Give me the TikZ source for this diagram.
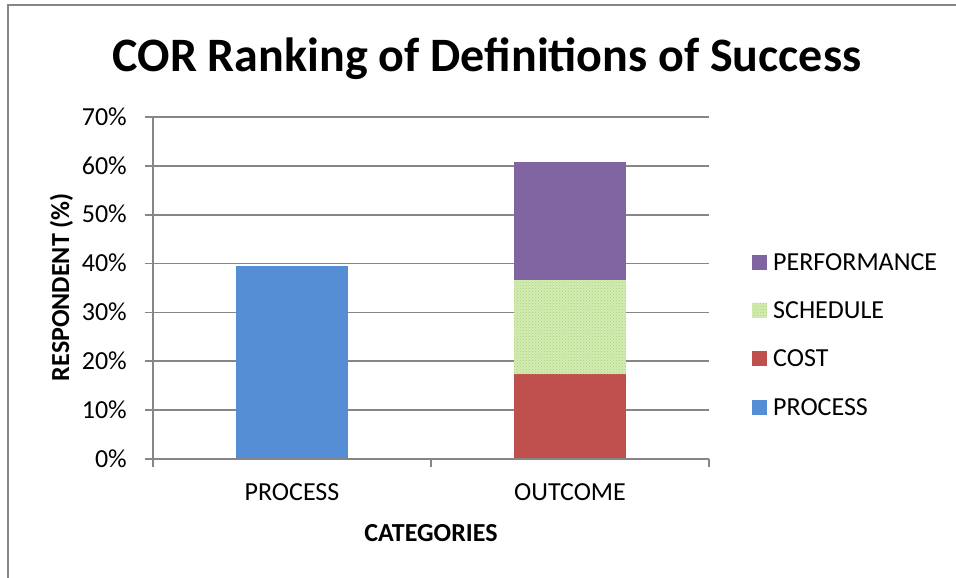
\documentclass[tikz,border=0pt]{standalone}
\usepackage{fontspec}
\setmainfont{Carlito}
\usetikzlibrary{patterns}
\definecolor{axisgray}{HTML}{868686}
\definecolor{procblue}{HTML}{558ED5}
\definecolor{costred}{HTML}{C0504D}
\definecolor{perfpurple}{HTML}{8064A2}
\definecolor{schedlight}{HTML}{D3ECB4}
\definecolor{schedgreen}{HTML}{A6D46E}
\tikzset{
  gridline/.style={draw=axisgray, line width=1.6pt},
  axisline/.style={draw=axisgray, line width=1.8pt},
  ticklab/.style={font=\fontsize{26}{28}\selectfont, anchor=base east, inner sep=0pt},
  catlab/.style={font=\fontsize{26}{28}\selectfont, anchor=base, inner sep=0pt},
  leglab/.style={font=\fontsize{26}{28}\selectfont, anchor=base west, inner sep=0pt},
  swatch/.style={minimum size=15pt, inner sep=0pt, draw=none}
}
\begin{document}
\begin{tikzpicture}[x=1pt,y=-1pt]
\useasboundingbox (0,0) rectangle (956,578);
\fill[white] (0,0) rectangle (956,578);
% outer frame (only left and top visible)
\draw[axisgray, line width=1.8pt] (8,578) -- (8,5) -- (956,5);
% title
\node[font=\fontsize{48}{52}\selectfont\bfseries, anchor=base, inner sep=0pt] (title) at (487,72) {COR Ranking of Definitions of Success};
% gridlines
\foreach \i in {1,...,7} {
  \draw[gridline] (153,{459-48.86*\i}) -- (709,{459-48.86*\i});
}
% bars
\fill[procblue] (236,459) rectangle (348,266);
\fill[costred] (514,459) rectangle (626,374);
\fill[schedlight] (514,374) rectangle (626,280);
\fill[pattern=crosshatch dots, pattern color=schedgreen] (514,374) rectangle (626,280);
\fill[perfpurple] (514,280) rectangle (626,162);
% axes
\coordinate (o) at (153,459);
\coordinate (ytop) at (153,117);
\coordinate (xend) at (709,459);
\draw[axisline] (ytop) -- (o) -- (xend);
\foreach \i in {0,...,7} {
  \draw[axisline] (145,{459-48.86*\i}) -- (153,{459-48.86*\i});
}
\foreach \xx in {153,431,709} {
  \draw[axisline] (\xx,459) -- (\xx,467);
}
% tick labels
\node[ticklab] (t0) at (127,467.2) {0\%};
\foreach \i in {1,...,7} {
  \node[ticklab] (t\i) at (127,{459-48.86*\i+8.2}) {\i0\%};
}
% category labels
\node[catlab] (cprocess) at (292,500) {PROCESS};
\node[catlab] (coutcome) at (570,500) {OUTCOME};
\node[catlab, font=\fontsize{26}{28}\selectfont\bfseries] (xtitle) at (431,541) {CATEGORIES};
% y title
\node[font=\fontsize{26}{28}\selectfont\bfseries, rotate=90, anchor=base, inner sep=0pt] (ytitle) at (69,287) {RESPONDENT (\%)};
% legend
\node[swatch, fill=perfpurple] (s1) at (759.5,262) {};
\node[swatch, fill=schedlight] (s2) at (759.5,310) {};
\fill[pattern=crosshatch dots, pattern color=schedgreen] (752,302.5) rectangle (767,317.5);
\node[swatch, fill=costred] (s3) at (759.5,358) {};
\node[swatch, fill=procblue] (s4) at (759.5,407) {};
\node[leglab] (l1) at (773,270.4) {PERFORMANCE};
\node[leglab] (l2) at (773,318.4) {SCHEDULE};
\node[leglab] (l3) at (773,366.4) {COST};
\node[leglab] (l4) at (773,415.4) {PROCESS};
\end{tikzpicture}
\end{document}
